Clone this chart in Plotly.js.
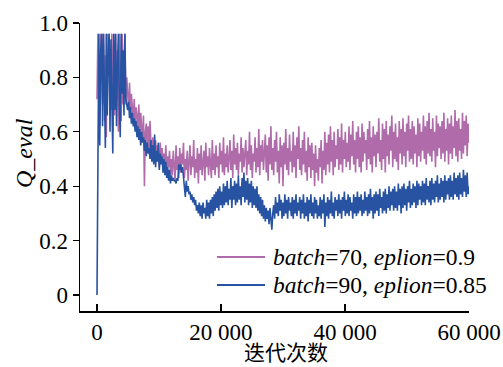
<!DOCTYPE html>
<html>
<head>
<meta charset="utf-8">
<script src="https://cdn.plot.ly/plotly-3.0.1.min.js"></script>
<style>html,body{margin:0;padding:0;background:#fff;}#chart{width:503px;height:367px;}</style>
</head>
<body>
<div id="chart"></div>
<script>
// Sampled every 150 iterations, starting at iteration 0 (10 samples per row = 1500 iterations)
var iterStart = 0;
var iterStep = 150;

var seriesNames = ["<i>batch</i>=70, <i>eplion</i>=0.9", "<i>batch</i>=90, <i>eplion</i>=0.85"];

var qEvalBatch70 = [
  0.72,0.96,0.80,0.62,0.96,0.90,0.70,0.96,0.64,0.88,
  0.58,0.96,0.82,0.96,0.75,0.68,0.96,0.60,0.92,0.66,
  0.96,0.72,0.90,0.60,0.96,0.78,0.64,0.96,0.70,0.84,
  0.96,0.70,0.80,0.74,0.68,0.78,0.66,0.74,0.70,0.64,
  0.72,0.62,0.69,0.66,0.60,0.70,0.58,0.67,0.62,0.57,
  0.66,0.40,0.60,0.63,0.55,0.62,0.52,0.64,0.56,0.51,
  0.58,0.53,0.50,0.57,0.49,0.55,0.52,0.47,0.56,0.49,
  0.54,0.46,0.52,0.48,0.55,0.45,0.51,0.47,0.53,0.44,
  0.50,0.44,0.53,0.47,0.42,0.55,0.46,0.51,0.43,0.54,
  0.45,0.52,0.48,0.56,0.43,0.50,0.46,0.53,0.42,0.49,
  0.55,0.44,0.51,0.47,0.57,0.43,0.50,0.45,0.54,0.41,
  0.52,0.46,0.55,0.44,0.49,0.53,0.42,0.56,0.47,0.51,
  0.44,0.54,0.48,0.43,0.57,0.46,0.52,0.44,0.55,0.47,
  0.51,0.43,0.56,0.48,0.53,0.45,0.58,0.44,0.52,0.47,
  0.55,0.45,0.50,0.57,0.46,0.53,0.43,0.59,0.48,0.54,
  0.46,0.56,0.44,0.52,0.49,0.58,0.45,0.54,0.47,0.51,
  0.57,0.44,0.53,0.48,0.60,0.46,0.55,0.43,0.52,0.49,
  0.58,0.45,0.54,0.47,0.61,0.44,0.55,0.49,0.57,0.46,
  0.53,0.59,0.45,0.55,0.42,0.58,0.48,0.62,0.46,0.54,
  0.44,0.57,0.49,0.60,0.45,0.53,0.41,0.58,0.47,0.55,
  0.40,0.56,0.48,0.61,0.46,0.54,0.44,0.59,0.49,0.53,
  0.45,0.60,0.47,0.55,0.43,0.58,0.50,0.62,0.46,0.54,
  0.44,0.57,0.48,0.60,0.45,0.53,0.42,0.58,0.47,0.55,
  0.43,0.56,0.46,0.52,0.40,0.55,0.45,0.50,0.42,0.54,
  0.47,0.57,0.41,0.53,0.46,0.60,0.44,0.56,0.48,0.59,
  0.45,0.62,0.49,0.57,0.44,0.60,0.47,0.55,0.50,0.61,
  0.46,0.58,0.48,0.63,0.45,0.57,0.50,0.60,0.47,0.56,
  0.49,0.62,0.46,0.59,0.51,0.64,0.48,0.57,0.45,0.60,
  0.50,0.62,0.47,0.58,0.45,0.63,0.49,0.60,0.52,0.57,
  0.46,0.61,0.50,0.64,0.48,0.58,0.45,0.62,0.51,0.59,
  0.47,0.60,0.52,0.65,0.49,0.57,0.46,0.63,0.50,0.61,
  0.45,0.64,0.51,0.59,0.48,0.62,0.53,0.66,0.47,0.60,
  0.50,0.63,0.49,0.58,0.46,0.64,0.52,0.61,0.48,0.65,
  0.51,0.60,0.47,0.63,0.53,0.66,0.49,0.61,0.50,0.64,
  0.48,0.62,0.52,0.59,0.47,0.65,0.51,0.63,0.49,0.60,
  0.53,0.66,0.50,0.62,0.48,0.64,0.52,0.67,0.51,0.61,
  0.49,0.65,0.53,0.60,0.47,0.66,0.51,0.63,0.54,0.62,
  0.50,0.64,0.52,0.67,0.49,0.61,0.53,0.65,0.48,0.63,
  0.52,0.66,0.50,0.62,0.54,0.68,0.51,0.64,0.49,0.65,
  0.53,0.61,0.50,0.67,0.52,0.64,0.55,0.66,0.51,0.63,
  0.56
];

var qEvalBatch90 = [
  0.00,0.58,0.96,0.55,0.90,0.96,0.62,0.96,0.70,0.54,
  0.96,0.66,0.88,0.96,0.60,0.94,0.72,0.52,0.96,0.68,
  0.96,0.62,0.84,0.96,0.70,0.58,0.96,0.74,0.90,0.66,
  0.96,0.72,0.70,0.68,0.71,0.65,0.69,0.63,0.67,0.62,
  0.65,0.60,0.64,0.58,0.62,0.57,0.61,0.55,0.60,0.56,
  0.58,0.53,0.57,0.51,0.56,0.52,0.54,0.50,0.57,0.49,
  0.55,0.48,0.59,0.47,0.53,0.49,0.56,0.46,0.52,0.48,
  0.51,0.45,0.50,0.44,0.49,0.43,0.47,0.42,0.46,0.41,
  0.44,0.42,0.43,0.42,0.42,0.41,0.43,0.42,0.48,0.46,
  0.48,0.45,0.47,0.44,0.39,0.36,0.42,0.38,0.40,0.37,
  0.38,0.35,0.37,0.34,0.36,0.33,0.35,0.31,0.33,0.30,
  0.34,0.29,0.33,0.28,0.34,0.30,0.32,0.28,0.35,0.29,
  0.34,0.28,0.35,0.30,0.36,0.29,0.37,0.31,0.38,0.32,
  0.39,0.31,0.40,0.33,0.38,0.32,0.41,0.33,0.40,0.34,
  0.42,0.33,0.39,0.35,0.43,0.32,0.40,0.35,0.42,0.33,
  0.41,0.34,0.44,0.35,0.40,0.33,0.43,0.36,0.45,0.34,
  0.42,0.35,0.43,0.33,0.41,0.34,0.42,0.32,0.40,0.33,
  0.39,0.32,0.40,0.31,0.37,0.30,0.36,0.29,0.35,0.28,
  0.33,0.27,0.32,0.28,0.31,0.26,0.32,0.27,0.24,0.30,
  0.33,0.28,0.36,0.30,0.34,0.29,0.37,0.31,0.35,0.28,
  0.34,0.29,0.37,0.30,0.35,0.28,0.36,0.31,0.34,0.29,
  0.36,0.28,0.35,0.30,0.37,0.29,0.34,0.31,0.36,0.28,
  0.35,0.30,0.37,0.28,0.34,0.29,0.36,0.27,0.35,0.30,
  0.37,0.29,0.34,0.28,0.36,0.30,0.35,0.28,0.33,0.29,
  0.36,0.28,0.35,0.30,0.37,0.25,0.34,0.29,0.36,0.28,
  0.35,0.30,0.38,0.29,0.34,0.28,0.36,0.31,0.35,0.29,
  0.37,0.30,0.35,0.28,0.36,0.31,0.38,0.29,0.35,0.30,
  0.37,0.29,0.36,0.31,0.34,0.28,0.37,0.30,0.36,0.29,
  0.38,0.30,0.36,0.31,0.37,0.29,0.35,0.30,0.38,0.31,
  0.36,0.29,0.37,0.30,0.39,0.31,0.36,0.28,0.37,0.30,
  0.38,0.31,0.37,0.29,0.39,0.32,0.36,0.30,0.38,0.31,
  0.39,0.30,0.37,0.32,0.40,0.31,0.38,0.33,0.39,0.31,
  0.40,0.32,0.38,0.31,0.41,0.33,0.39,0.30,0.40,0.32,
  0.41,0.33,0.39,0.31,0.40,0.34,0.42,0.32,0.39,0.33,
  0.41,0.34,0.40,0.32,0.42,0.33,0.41,0.35,0.40,0.33,
  0.42,0.34,0.41,0.33,0.43,0.35,0.40,0.34,0.42,0.33,
  0.43,0.35,0.41,0.34,0.42,0.36,0.44,0.34,0.41,0.35,
  0.43,0.36,0.42,0.34,0.44,0.35,0.42,0.37,0.43,0.35,
  0.44,0.36,0.42,0.35,0.45,0.37,0.43,0.36,0.44,0.35,
  0.45,0.37,0.43,0.36,0.46,0.38,0.44,0.36,0.45,0.37,
  0.40
];

var xTickVals = [0, 20000, 40000, 60000];
var xTickText = ["0", "20 000", "40 000", "60 000"];
var yTickVals = [0, 0.2, 0.4, 0.6, 0.8, 1.0];
var yTickText = ["0", "0.2", "0.4", "0.6", "0.8", "1.0"];

var pinkColor = "#b06bab";
var blueColor = "#2853a3";
var serif = "Liberation Serif";

var traces = [
  {type: "scatter", mode: "lines", name: seriesNames[0], x0: iterStart, dx: iterStep, y: qEvalBatch70,
   line: {color: pinkColor, width: 1.6}, showlegend: false},
  {type: "scatter", mode: "lines", name: seriesNames[1], x0: iterStart, dx: iterStep, y: qEvalBatch90,
   line: {color: blueColor, width: 1.6}, showlegend: false}
];

function px2paperX(p){ return (p - 80) / 389; }
function px2paperY(p){ return (311 - p) / 288; }

var layout = {
  width: 503, height: 367,
  margin: {l: 80, r: 34, t: 23, b: 56},
  paper_bgcolor: "#fff", plot_bgcolor: "#fff",
  showlegend: false,
  font: {family: serif, size: 23, color: "#000"},
  xaxis: {
    range: [-2740, 60000], showgrid: false, zeroline: false,
    showline: true, linecolor: "#000", linewidth: 1.5,
    ticks: "inside", ticklen: 7, tickwidth: 1.2, tickcolor: "#000",
    tickvals: xTickVals, ticktext: xTickText,
    tickfont: {family: serif, size: 23, color: "#000"}
  },
  yaxis: {
    range: [-0.059, 1.0], showgrid: false, zeroline: false,
    showline: true, linecolor: "#000", linewidth: 1.5,
    ticks: "outside", ticklen: 6, tickwidth: 1.2, tickcolor: "#000",
    tickvals: yTickVals, ticktext: yTickText,
    tickfont: {family: serif, size: 23, color: "#000"}
  },
  shapes: [
    {type: "line", xref: "paper", yref: "paper", x0: px2paperX(217), x1: px2paperX(265),
     y0: px2paperY(257), y1: px2paperY(257), line: {color: pinkColor, width: 2}},
    {type: "line", xref: "paper", yref: "paper", x0: px2paperX(217), x1: px2paperX(265),
     y0: px2paperY(285), y1: px2paperY(285), line: {color: blueColor, width: 2}}
  ],
  annotations: [
    {xref: "paper", yref: "paper", x: px2paperX(271), y: px2paperY(257), xanchor: "left", yanchor: "middle",
     text: seriesNames[0], showarrow: false, font: {family: serif, size: 23.5, color: "#000"}},
    {xref: "paper", yref: "paper", x: px2paperX(271), y: px2paperY(285), xanchor: "left", yanchor: "middle",
     text: seriesNames[1], showarrow: false, font: {family: serif, size: 23.5, color: "#000"}},
    {xref: "paper", yref: "paper", x: px2paperX(286), y: px2paperY(351), xanchor: "center", yanchor: "middle",
     text: "迭代次数", showarrow: false, font: {family: "Noto Sans CJK SC", size: 21, color: "#000"}},
    {xref: "paper", yref: "paper", x: px2paperX(24), y: px2paperY(153), xanchor: "center", yanchor: "middle",
     text: "<i>Q_eval</i>", textangle: -90, showarrow: false, font: {family: serif, size: 24, color: "#000"}}
  ]
};

Plotly.newPlot("chart", traces, layout, {displayModeBar: false, staticPlot: true});
</script>
</body>
</html>
